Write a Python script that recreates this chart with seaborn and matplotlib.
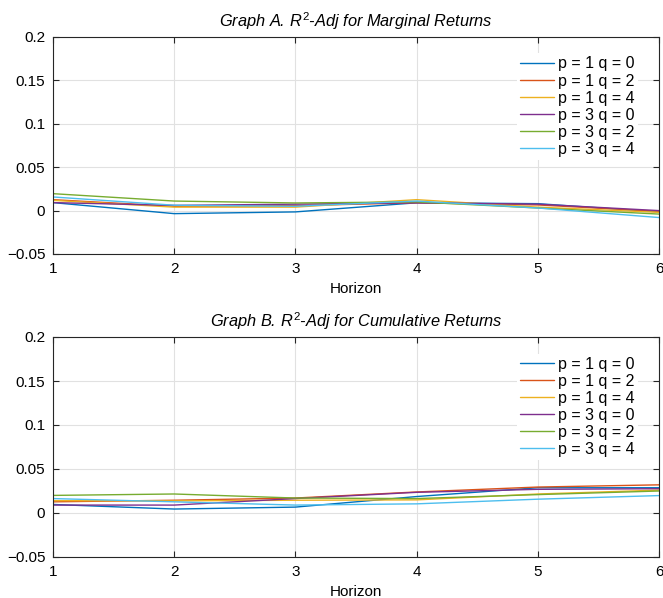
import matplotlib
matplotlib.use("Agg")
import matplotlib.pyplot as plt
import seaborn as sns
import pandas as pd

horizon = [1, 2, 3, 4, 5, 6]
specs = ['p = 1 q = 0', 'p = 1 q = 2', 'p = 1 q = 4',
         'p = 3 q = 0', 'p = 3 q = 2', 'p = 3 q = 4']

# Graph A: marginal returns
marg_p1q0 = [0.0092, -0.0035, -0.0015, 0.0090, 0.0080, -0.0015]
marg_p1q2 = [0.0126, 0.0050, 0.0057, 0.0090, 0.0065, -0.0008]
marg_p1q4 = [0.0118, 0.0040, 0.0040, 0.0126, 0.0040, -0.0020]
marg_p3q0 = [0.0092, 0.0060, 0.0074, 0.0090, 0.0074, 0.0000]
marg_p3q2 = [0.0195, 0.0110, 0.0088, 0.0100, 0.0030, -0.0040]
marg_p3q4 = [0.0157, 0.0062, 0.0050, 0.0110, 0.0030, -0.0080]

# Graph B: cumulative returns
cum_p1q0 = [0.0097, 0.0045, 0.0067, 0.0187, 0.0287, 0.0287]
cum_p1q2 = [0.0127, 0.0145, 0.0170, 0.0239, 0.0295, 0.0320]
cum_p1q4 = [0.0140, 0.0138, 0.0145, 0.0149, 0.0216, 0.0260]
cum_p3q0 = [0.0090, 0.0090, 0.0164, 0.0235, 0.0269, 0.0276]
cum_p3q2 = [0.0200, 0.0216, 0.0170, 0.0164, 0.0209, 0.0250]
cum_p3q4 = [0.0164, 0.0127, 0.0090, 0.0104, 0.0157, 0.0198]

yticks = [-0.05, 0, 0.05, 0.1, 0.15, 0.2]
ytick_labels = ['\u22120.05', '0', '0.05', '0.1', '0.15', '0.2']

colors = ['#0072BD', '#D95319', '#EDB120', '#7E2F8E', '#77AC30', '#4DBEEE']

def to_long(series):
    rows = []
    for name, vals in zip(specs, series):
        for h, v in zip(horizon, vals):
            rows.append({'Horizon': h, 'R2': v, 'Spec': name})
    return pd.DataFrame(rows)

df_a = to_long([marg_p1q0, marg_p1q2, marg_p1q4, marg_p3q0, marg_p3q2, marg_p3q4])
df_b = to_long([cum_p1q0, cum_p1q2, cum_p1q4, cum_p3q0, cum_p3q2, cum_p3q4])

sns.set_theme(style="whitegrid")
plt.rcParams['font.family'] = ['Liberation Sans', 'DejaVu Sans']
plt.rcParams['text.color'] = 'black'
plt.rcParams['axes.labelcolor'] = 'black'
plt.rcParams['mathtext.fontset'] = 'custom'
plt.rcParams['mathtext.rm'] = 'Liberation Sans'
plt.rcParams['mathtext.it'] = 'Liberation Sans:italic'
plt.rcParams['mathtext.default'] = 'it'

fig = plt.figure(figsize=(6.63, 5.98), dpi=100)
ax_a = fig.add_axes([53 / 663, 1 - 254 / 598, 606 / 663, 217 / 598])
ax_b = fig.add_axes([53 / 663, 1 - 557 / 598, 606 / 663, 220 / 598])

panels = [
    (ax_a, df_a, r'Graph A. $R^{2}$-Adj for Marginal Returns'),
    (ax_b, df_b, r'Graph B. $R^{2}$-Adj for Cumulative Returns'),
]

for ax, df, title in panels:
    sns.lineplot(data=df, x='Horizon', y='R2', hue='Spec', hue_order=specs,
                 palette=colors, linewidth=1.0, ax=ax)
    ax.set_xlim(1, 6)
    ax.set_ylim(-0.05, 0.2)
    ax.set_xticks(horizon)
    ax.set_xticklabels([str(h) for h in horizon])
    ax.set_yticks(yticks)
    ax.set_yticklabels(ytick_labels)
    ax.set_facecolor('white')
    ax.grid(True, color='#e1e1e1', linewidth=0.8)
    for sp in ax.spines.values():
        sp.set_color('#262626')
        sp.set_linewidth(0.8)
        sp.set_visible(True)
    ax.tick_params(direction='in', length=4, width=0.8, color='#262626',
                   labelsize=11, labelcolor='black', pad=5.5,
                   top=True, right=True, bottom=True, left=True)
    ax.set_xlabel('Horizon', fontsize=11, labelpad=4.5, color='black')
    ax.set_ylabel('')
    ax.set_title(title, fontsize=11.8, style='italic', pad=7, color='black')
    ax.legend(loc='upper right', bbox_to_anchor=(0.965, 0.925), fontsize=11.5,
              frameon=True, facecolor='white', edgecolor='none', framealpha=1,
              borderpad=0.2, labelspacing=0.13, handlelength=2.1,
              handletextpad=0.25, borderaxespad=0)

fig.savefig('out.png', dpi=100)
